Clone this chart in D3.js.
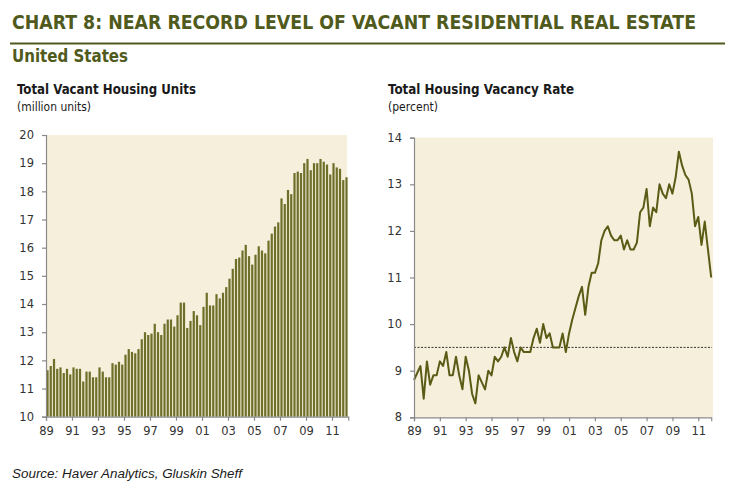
<!DOCTYPE html>
<html>
<head>
<meta charset="utf-8">
<script src="https://cdn.jsdelivr.net/npm/d3@7"></script>
<style>
  html, body { margin: 0; padding: 0; background: #ffffff; }
  svg { display: block; }
  .condensed { font-family: 'Liberation Sans Narrow', 'DejaVu Sans Condensed', 'Roboto Condensed', 'Liberation Sans', sans-serif; font-stretch: condensed; }
  .tick text { font-family: 'DejaVu Sans', Verdana, sans-serif; font-size: 11.5px; fill: #333; }
</style>
</head>
<body>
<svg id="chart" width="737" height="497"></svg>
<script>
// ---------------- data ----------------
const startYear = 1989;
const quartersPerYear = 4;
// Total vacant housing units (million), quarterly 1989Q1 - 2012Q1
const vacantUnits = [
  11.65, 11.8, 12.05, 11.7,
  11.75, 11.55, 11.7, 11.5,
  11.75, 11.7, 11.7, 11.25,
  11.6, 11.6, 11.4, 11.4,
  11.75, 11.6, 11.4, 11.4,
  11.9, 11.85, 11.95, 11.85,
  12.2, 12.4, 12.3, 12.25,
  12.4, 12.75, 13.0, 12.9,
  12.95, 13.3, 13.0, 12.9,
  13.3, 13.45, 13.45, 13.2,
  13.6, 14.05, 14.05, 13.15,
  13.4, 13.75, 13.6, 13.25,
  13.9, 14.4, 13.95, 13.95,
  14.35, 14.2, 14.4, 14.6,
  14.9, 15.25, 15.6, 15.65,
  15.9, 16.1, 15.7, 15.4,
  15.75, 16.05, 15.9, 15.8,
  16.25, 16.5, 16.75, 16.9,
  17.75, 17.55, 18.05, 17.9,
  18.65, 18.7, 18.65, 19.0,
  19.15, 18.75, 19.0, 19.0,
  19.15, 19.05, 18.95, 18.6,
  19.0, 18.85, 18.8, 18.4,
  18.5
];
// Total housing vacancy rate (percent), quarterly 1989Q1 - 2012Q1
const vacancyRate = [
  8.8, 8.95, 9.1, 8.4,
  9.2, 8.7, 8.9, 8.9,
  9.2, 9.1, 9.4, 8.9,
  8.9, 9.3, 8.9, 8.6,
  9.3, 9.0, 8.5, 8.3,
  8.9, 8.75, 8.6, 9.0,
  8.9, 9.3, 9.2, 9.3,
  9.5, 9.3, 9.7, 9.4,
  9.2, 9.5, 9.4, 9.4,
  9.4, 9.7, 9.9, 9.6,
  10.0, 9.7, 9.8, 9.5,
  9.5, 9.5, 9.8, 9.4,
  9.8, 10.1, 10.35, 10.6,
  10.8, 10.2, 10.8, 11.1,
  11.1, 11.3, 11.8, 12.0,
  12.1, 11.9, 11.8, 11.8,
  11.9, 11.6, 11.8, 11.6,
  11.6, 11.75, 12.4, 12.5,
  12.9, 12.1, 12.5, 12.4,
  13.0, 12.8, 12.7, 13.0,
  12.8, 13.15, 13.7, 13.4,
  13.2, 13.1, 12.8, 12.1,
  12.3, 11.7, 12.2, 11.6,
  11.0
];
const referenceRate = 9.5;
const yearTicks = [1989, 1991, 1993, 1995, 1997, 1999, 2001, 2003, 2005, 2007, 2009, 2011];
const yearTickLabels = ["89","91","93","95","97","99","01","03","05","07","09","11"];
const unitsTicks = [10, 11, 12, 13, 14, 15, 16, 17, 18, 19, 20];
const rateTicks = [8, 9, 10, 11, 12, 13, 14];

const texts = {
  title: "CHART 8: NEAR RECORD LEVEL OF VACANT RESIDENTIAL REAL ESTATE",
  subtitle: "United States",
  leftTitle: "Total Vacant Housing Units",
  leftUnit: "(million units)",
  rightTitle: "Total Housing Vacancy Rate",
  rightUnit: "(percent)",
  source: "Source: Haver Analytics, Gluskin Sheff"
};

// ---------------- styles ----------------
const olive = "#4f5a1c";
const bgCream = "#f5efdc";
const barFill = "#6f6f2a";
const lineColor = "#5b5b16";
const axisGray = "#8a8a8a";

const svg = d3.select("#chart");

// header
svg.append("text").attr("class", "condensed")
  .attr("x", 12).attr("y", 29)
  .attr("font-size", 20).attr("font-weight", "bold").attr("fill", olive)
  .attr("textLength", 684).attr("lengthAdjust", "spacingAndGlyphs")
  .text(texts.title);
svg.append("line").attr("x1", 10).attr("x2", 725).attr("y1", 43.5).attr("y2", 43.5)
  .attr("stroke", olive).attr("stroke-width", 2);
svg.append("text").attr("class", "condensed")
  .attr("x", 12).attr("y", 61.5)
  .attr("font-size", 17).attr("font-weight", "bold").attr("fill", olive)
  .attr("textLength", 116).attr("lengthAdjust", "spacingAndGlyphs")
  .text(texts.subtitle);

function panelTitles(x, title, unit, titleLen, unitLen) {
  svg.append("text").attr("class", "condensed")
    .attr("x", x).attr("y", 94)
    .attr("font-size", 13.5).attr("font-weight", "bold").attr("fill", "#1a1a1a")
    .attr("textLength", titleLen).attr("lengthAdjust", "spacingAndGlyphs")
    .text(title);
  svg.append("text").attr("class", "condensed")
    .attr("x", x).attr("y", 110.5)
    .attr("font-size", 11.5).attr("fill", "#1a1a1a")
    .attr("textLength", unitLen).attr("lengthAdjust", "spacingAndGlyphs")
    .text(unit);
}
panelTitles(17, texts.leftTitle, texts.leftUnit, 179, 74);
panelTitles(388, texts.rightTitle, texts.rightUnit, 186, 50);

// ---------------- left panel: bars ----------------
const L = { x0: 46, x1: 348.25, y0: 135, y1: 416.7 };
const xL = d3.scaleLinear().domain([startYear, startYear + vacantUnits.length / quartersPerYear]).range([L.x0, L.x1]);
const yL = d3.scaleLinear().domain([10, 20]).range([L.y1, L.y0]);

svg.append("rect").attr("x", L.x0).attr("y", L.y0)
  .attr("width", 301).attr("height", L.y1 - L.y0).attr("fill", bgCream);

const qw = xL(startYear + 0.25) - xL(startYear);
svg.append("g").selectAll("rect").data(vacantUnits).join("rect")
  .attr("x", (d, i) => xL(startYear + i / quartersPerYear) + 0.4)
  .attr("width", qw * 0.68)
  .attr("y", d => yL(d))
  .attr("height", d => yL(10) - yL(d))
  .attr("fill", barFill);

const axL = svg.append("g").attr("transform", `translate(${L.x0},0)`)
  .call(d3.axisLeft(yL).tickValues(unitsTicks).tickSize(4).tickPadding(8).tickFormat(d3.format("d")));
const axLB = svg.append("g").attr("transform", `translate(0,${L.y1})`)
  .call(d3.axisBottom(xL).tickValues(yearTicks).tickSize(4).tickPadding(6)
    .tickFormat((d, i) => yearTickLabels[i]));

// ---------------- right panel: line ----------------
const R = { x0: 414, x1: 711.2, y0: 137.7, y1: 417.3 };
const xR = d3.scaleLinear().domain([startYear, startYear + (vacancyRate.length - 1) / quartersPerYear]).range([R.x0, R.x1]);
const yR = d3.scaleLinear().domain([8, 14]).range([R.y1, R.y0]);

svg.append("rect").attr("x", R.x0).attr("y", R.y0)
  .attr("width", 299).attr("height", R.y1 - R.y0).attr("fill", bgCream);

svg.append("line")
  .attr("x1", xR(startYear)).attr("x2", R.x0 + 298)
  .attr("y1", yR(referenceRate)).attr("y2", yR(referenceRate))
  .attr("stroke", "#333").attr("stroke-width", 1).attr("stroke-dasharray", "2,1.5");

const line = d3.line()
  .x((d, i) => xR(startYear + i / quartersPerYear))
  .y(d => yR(d));
svg.append("path").datum(vacancyRate)
  .attr("d", line).attr("fill", "none")
  .attr("stroke", lineColor).attr("stroke-width", 2).attr("stroke-linejoin", "round");

const axR = svg.append("g").attr("transform", `translate(${R.x0},0)`)
  .call(d3.axisLeft(yR).tickValues(rateTicks).tickSize(4).tickPadding(8).tickFormat(d3.format("d")));
const axRB = svg.append("g").attr("transform", `translate(0,${R.y1})`)
  .call(d3.axisBottom(xR).tickValues(yearTicks).tickSize(4).tickPadding(6)
    .tickFormat((d, i) => yearTickLabels[i]));

// axis styling
svg.selectAll(".domain").attr("stroke", axisGray).attr("stroke-width", 1.2);
svg.selectAll(".tick line").attr("stroke", axisGray).attr("stroke-width", 1.2);
svg.selectAll(".tick text").attr("font-family", null).attr("font-size", null);

// source
svg.append("text")
  .attr("x", 12).attr("y", 478)
  .attr("font-family", "'Liberation Sans', Arial, sans-serif")
  .attr("font-style", "italic").attr("font-size", 12.5).attr("fill", "#1a1a1a")
  .attr("textLength", 230).attr("lengthAdjust", "spacingAndGlyphs")
  .text(texts.source);
</script>
</body>
</html>
